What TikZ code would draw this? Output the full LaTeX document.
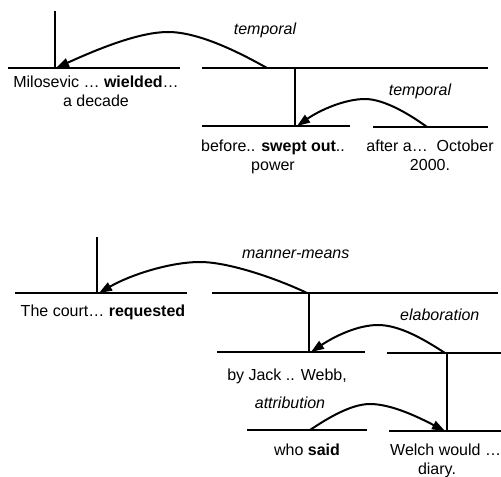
\documentclass[tikz,border=0pt]{standalone}
\usepackage{fontspec}
\setmainfont{Liberation Sans}
\usetikzlibrary{arrows.meta}
\begin{document}
\begin{tikzpicture}[x=1bp,y=-1bp,
  seg/.style={line width=2bp},
  rel/.style={line width=2bp,-{Triangle[length=13bp,width=9bp]}},
  txt/.style={anchor=base,inner sep=0pt,align=center,font=\fontsize{16bp}{19.5bp}\selectfont},
  lbl/.style={anchor=base,inner sep=0pt,font=\fontsize{16bp}{19.5bp}\selectfont\itshape}]
\useasboundingbox (0,0) rectangle (501,477);
\clip (0,0) rectangle (501,477);

% ---------- top tree ----------
\coordinate (r1top) at (55,11);
\coordinate (r1bot) at (55,68);
\coordinate (h1a) at (8,68);   \coordinate (h1b) at (180,68);
\coordinate (h2a) at (202,68); \coordinate (h2b) at (488,68);
\coordinate (v2a) at (295,68); \coordinate (v2b) at (295,126);
\coordinate (h3a) at (202,126); \coordinate (h3b) at (350,126);
\coordinate (h4a) at (373,127); \coordinate (h4b) at (488,127);

\draw[seg] (r1top) -- (r1bot);
\draw[seg] (h1a) -- (h1b);
\draw[seg] (h2a) -- (h2b);
\draw[seg] (v2a) -- (v2b);
\draw[seg] (h3a) -- (h3b);
\draw[seg] (h4a) -- (h4b);

\coordinate (a1s) at (267,68);  \coordinate (a1p) at (168,32);  \coordinate (a1t) at (56,68);
\coordinate (a2s) at (427,127); \coordinate (a2p) at (365,99);  \coordinate (a2t) at (297,126);
\draw[rel] (a1s) .. controls (242,54) and (200,32) .. (a1p)
                 .. controls (140,32) and (100,48) .. (a1t);
\draw[rel] (a2s) .. controls (412,116) and (385,99) .. (a2p)
                 .. controls (345,99) and (320,110) .. (a2t);

\node[lbl] (l1) at (265,35) {temporal};
\node[lbl] (l2) at (420,95.7) {temporal};

\node[txt] (n1) at (96,106.8) {Milosevic … \textbf{wielded}…\\a decade};
\node[txt] (n2) at (273,171) {before.. \textbf{swept out}..\\power};
\node[txt] (n3) at (430,171) {after a…\ \ October\\2000.};

% ---------- bottom tree ----------
\coordinate (r2top) at (97,237);
\coordinate (r2bot) at (97,293);
\coordinate (g1a) at (15,293);  \coordinate (g1b) at (187,293);
\coordinate (g2a) at (212,293); \coordinate (g2b) at (498,293);
\coordinate (w2a) at (309,293); \coordinate (w2b) at (309,352);
\coordinate (g3a) at (217,352); \coordinate (g3b) at (365,352);
\coordinate (g4a) at (387,353); \coordinate (g4b) at (503,353);
\coordinate (w3a) at (447,353); \coordinate (w3b) at (447,431);
\coordinate (g5a) at (247,430); \coordinate (g5b) at (367,430);
\coordinate (g6a) at (389,431); \coordinate (g6b) at (503,431);

\draw[seg] (r2top) -- (r2bot);
\draw[seg] (g1a) -- (g1b);
\draw[seg] (g2a) -- (g2b);
\draw[seg] (w2a) -- (w2b);
\draw[seg] (g3a) -- (g3b);
\draw[seg] (g4a) -- (g4b);
\draw[seg] (w3a) -- (w3b);
\draw[seg] (g5a) -- (g5b);
\draw[seg] (g6a) -- (g6b);

\coordinate (b1s) at (307,293); \coordinate (b1p) at (200,262); \coordinate (b1t) at (99,293);
\coordinate (b2s) at (445,353); \coordinate (b2p) at (378,325); \coordinate (b2t) at (311,352);
\coordinate (b3s) at (310,430); \coordinate (b3p) at (370,404); \coordinate (b3t) at (445,431);
\draw[rel] (b1s) .. controls (280,280) and (230,262) .. (b1p)
                 .. controls (170,262) and (130,275) .. (b1t);
\draw[rel] (b2s) .. controls (425,340) and (400,325) .. (b2p)
                 .. controls (358,325) and (335,336) .. (b2t);
\draw[rel] (b3s) .. controls (325,420) and (350,404) .. (b3p)
                 .. controls (392,404) and (420,418) .. (b3t);

\node[lbl] (m1) at (295.7,258.3) {manner-means};
\node[lbl] (m2) at (439.8,320.7) {elaboration};
\node[lbl] (m3) at (290,408.3) {attribution};

\node[txt] (c1) at (103,316) {The court… \textbf{requested}};
\node[txt] (c2) at (287,380.7) {by Jack .. Webb,};
\node[txt] (c3) at (307,455) {who \textbf{said}};
\node[txt,anchor=base west] (c4) at (390,455) {Welch would …};
\node[txt] (c5) at (437,474.5) {diary.};
\end{tikzpicture}
\end{document}
